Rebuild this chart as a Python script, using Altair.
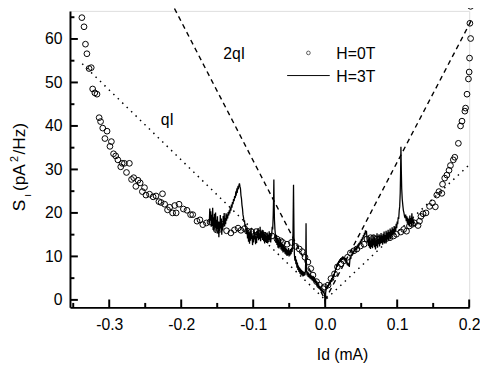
import altair as alt
import pandas as pd

# ---------------- data ----------------
# H = 0 T (open circles): current Id (mA), noise S_I (pA^2/Hz)
h0_x = [-0.338, -0.335, -0.333, -0.331, -0.328, -0.325, -0.323, -0.320, -0.317, -0.314,
        -0.312, -0.309, -0.306, -0.303, -0.299, -0.297, -0.294, -0.291, -0.288, -0.284,
        -0.282, -0.279, -0.276, -0.272, -0.269, -0.266, -0.263, -0.260, -0.257, -0.254,
        -0.251, -0.249, -0.244, -0.239, -0.235, -0.231, -0.228, -0.226, -0.223, -0.219,
        -0.216, -0.212, -0.209, -0.207, -0.203, -0.197, -0.192, -0.187, -0.184, -0.178,
        -0.174, -0.170, -0.165, -0.160, -0.151, -0.147, -0.144, -0.137, -0.131, -0.126,
        -0.121, -0.117, -0.112, -0.108, -0.103, -0.096, -0.092, -0.085, -0.080, -0.074,
        -0.067, -0.062, -0.059, -0.053, -0.047, -0.041, -0.036, -0.032, -0.028, -0.024,
        -0.020, -0.017, -0.012, -0.008, -0.003, -0.001, 0.004, 0.008, 0.013, 0.017,
        0.022, 0.026, 0.031, 0.035, 0.040, 0.044, 0.049, 0.054, 0.058, 0.063,
        0.067, 0.072, 0.076, 0.081, 0.085, 0.090, 0.095, 0.099, 0.105, 0.109,
        0.113, 0.117, 0.121, 0.124, 0.129, 0.131, 0.133, 0.136, 0.140, 0.145,
        0.149, 0.153, 0.155, 0.158, 0.162, 0.163, 0.166, 0.169, 0.172, 0.174,
        0.178, 0.180, 0.185, 0.188, 0.190, 0.194, 0.195, 0.197, 0.199, 0.200,
        0.2005, 0.202, 0.201, 0.202]
h0_y = [64.9, 62.8, 58.8, 56.6, 53.2, 53.4, 48.5, 47.6, 47.3, 41.9,
        41.0, 39.5, 37.1, 38.8, 35.3, 36.4, 33.6, 33.1, 32.2, 30.6,
        31.4, 31.4, 29.3, 31.4, 27.7, 28.1, 26.1, 27.5, 26.9, 24.9,
        25.8, 24.1, 24.3, 23.7, 23.9, 22.6, 22.4, 24.4, 22.0, 20.7,
        21.3, 20.0, 21.7, 20.0, 22.0, 20.9, 20.6, 19.6, 19.6, 18.1,
        18.4, 17.3, 17.7, 17.9, 16.1, 16.2, 17.4, 15.9, 15.4, 16.1,
        16.5, 16.0, 16.4, 15.8, 15.7, 15.7, 15.3, 14.9, 14.0, 14.7,
        14.0, 13.6, 13.2, 12.8, 13.2, 12.3, 11.7, 11.1, 9.8, 8.7,
        7.2, 5.7, 4.2, 3.4, 2.6, 3.0, 3.4, 4.9, 6.0, 7.6,
        8.3, 9.0, 9.8, 10.8, 11.3, 11.7, 12.4, 12.8, 14.0, 14.3,
        14.3, 14.0, 14.1, 13.8, 14.1, 14.3, 14.7, 15.1, 15.6, 16.2,
        15.8, 17.0, 17.4, 17.7, 17.1, 18.1, 19.2, 19.8, 20.0, 21.5,
        22.3, 21.4, 24.1, 24.9, 24.5, 26.6, 28.0, 28.7, 29.8, 30.9,
        32.2, 32.8, 36.0, 40.0, 41.1, 43.4, 44.1, 47.3, 50.8, 52.4,
        55.6, 60.1, 63.6, 67.5]

# H = 3 T (solid noisy line)
h3_x = [-0.1610, -0.1603, -0.1597, -0.1590, -0.1583, -0.1577, -0.1570, -0.1563, -0.1557, -0.1550,
        -0.1543, -0.1537, -0.1530, -0.1523, -0.1517, -0.1510, -0.1503, -0.1497, -0.1490, -0.1483,
        -0.1477, -0.1470, -0.1463, -0.1457, -0.1450, -0.1443, -0.1437, -0.1430, -0.1423, -0.1417,
        -0.1410, -0.1403, -0.1397, -0.1390, -0.1383, -0.1377, -0.1370,
        -0.1363, -0.1355, -0.1348, -0.1340, -0.1333, -0.1325, -0.1318, -0.1310, -0.1303, -0.1295,
        -0.1288, -0.1280, -0.1273, -0.1265, -0.1258, -0.1250, -0.1243, -0.1235, -0.1228, -0.1220,
        -0.1213, -0.1205, -0.1198, -0.1191, -0.1184, -0.1177, -0.1170, -0.1163, -0.1156, -0.1149,
        -0.1142, -0.1135, -0.1128, -0.1121, -0.1114, -0.1107, -0.1100,
        -0.1093, -0.1086, -0.1079, -0.1072, -0.1065, -0.1058, -0.1051, -0.1044, -0.1037, -0.1030,
        -0.1023, -0.1016, -0.1009, -0.1002, -0.0995, -0.0988, -0.0981, -0.0974, -0.0967, -0.0960,
        -0.0953, -0.0946, -0.0939, -0.0932, -0.0925, -0.0918, -0.0911, -0.0904, -0.0897, -0.0890,
        -0.0883, -0.0876, -0.0869, -0.0862, -0.0855, -0.0848, -0.0841, -0.0834, -0.0827, -0.0820,
        -0.0813, -0.0806, -0.0799, -0.0792, -0.0785, -0.0778, -0.0771, -0.0764, -0.0757, -0.0750,
        -0.0743, -0.0736, -0.0729, -0.0722, -0.0716, -0.0713, -0.0710, -0.0705, -0.0698,
        -0.0691, -0.0684, -0.0677, -0.0670, -0.0663, -0.0656, -0.0649, -0.0642, -0.0635, -0.0628,
        -0.0621, -0.0614, -0.0607, -0.0600, -0.0593, -0.0586, -0.0579, -0.0572, -0.0565, -0.0558,
        -0.0551, -0.0544, -0.0537, -0.0530, -0.0523, -0.0516, -0.0509, -0.0502, -0.0495, -0.0488,
        -0.0481, -0.0474, -0.0467, -0.0460, -0.0453, -0.0447, -0.0443, -0.0440, -0.0437, -0.0433,
        -0.0428, -0.0421, -0.0414, -0.0407, -0.0400, -0.0393, -0.0386, -0.0379, -0.0372, -0.0365,
        -0.0358, -0.0351, -0.0344, -0.0337, -0.0330, -0.0323, -0.0316, -0.0309, -0.0302, -0.0295,
        -0.0288, -0.0281, -0.0274, -0.0270, -0.0266, -0.0262,
        -0.0258, -0.0251, -0.0244, -0.0237, -0.0230, -0.0223, -0.0216, -0.0209, -0.0202, -0.0195,
        -0.0188, -0.0181, -0.0174, -0.0167, -0.0160, -0.0153, -0.0146, -0.0139, -0.0132, -0.0125,
        -0.0118, -0.0111, -0.0104, -0.0097, -0.0090, -0.0083, -0.0076, -0.0069, -0.0062, -0.0055,
        -0.0048, -0.0041, -0.0034, -0.0027, -0.0020, -0.0010, 0.0000, 0.0006,
        0.0013, 0.0020, 0.0027, 0.0034, 0.0041, 0.0048, 0.0055, 0.0062, 0.0069, 0.0076,
        0.0083, 0.0090, 0.0097, 0.0104, 0.0111, 0.0118, 0.0125, 0.0132, 0.0139, 0.0146,
        0.0153, 0.0160, 0.0167, 0.0174, 0.0181, 0.0188, 0.0195, 0.0202, 0.0209, 0.0216,
        0.0223, 0.0230, 0.0237, 0.0244, 0.0251, 0.0258, 0.0265, 0.0272, 0.0279, 0.0286,
        0.0293, 0.0300, 0.0307, 0.0314, 0.0321, 0.0328, 0.0335, 0.0342, 0.0349, 0.0356,
        0.0363, 0.0370, 0.0377, 0.0384, 0.0391, 0.0398, 0.0405, 0.0412, 0.0419, 0.0426,
        0.0433, 0.0440, 0.0447, 0.0454, 0.0461, 0.0468, 0.0475, 0.0482, 0.0489, 0.0496,
        0.0503, 0.0510, 0.0517, 0.0524, 0.0531, 0.0538, 0.0545, 0.0552, 0.0559, 0.0566,
        0.0573, 0.0580, 0.0587,
        0.0594, 0.0601, 0.0608, 0.0615, 0.0622, 0.0629, 0.0636, 0.0643, 0.0650, 0.0657,
        0.0664, 0.0671, 0.0678, 0.0685, 0.0692, 0.0699, 0.0706, 0.0713, 0.0720, 0.0727,
        0.0734, 0.0741, 0.0748, 0.0755, 0.0762, 0.0769, 0.0776, 0.0783, 0.0790, 0.0797,
        0.0804, 0.0811, 0.0818, 0.0825, 0.0832, 0.0839, 0.0846, 0.0853, 0.0860, 0.0867,
        0.0874, 0.0881, 0.0888, 0.0895, 0.0902, 0.0909, 0.0916, 0.0923, 0.0930, 0.0937,
        0.0944, 0.0951, 0.0958, 0.0965, 0.0972, 0.0979, 0.0986, 0.0993, 0.1000, 0.1007,
        0.1014, 0.1021, 0.1028, 0.1035, 0.1042, 0.1047, 0.1052, 0.1057, 0.1063, 0.1070,
        0.1078, 0.1086, 0.1094, 0.1102, 0.1110, 0.1118, 0.1126, 0.1134, 0.1141, 0.1148,
        0.1155, 0.1162, 0.1169, 0.1176, 0.1183, 0.1190, 0.1197, 0.1204, 0.1211, 0.1218,
        0.1225, 0.1232]
h3_y = [17.5, 21.0, 18.2, 20.4, 16.8, 19.6, 17.0, 21.2, 16.1, 19.0,
        15.9, 19.8, 16.7, 20.1, 15.6, 18.4, 16.3, 19.2, 15.2, 18.0,
        14.4, 17.9, 15.8, 19.5, 16.4, 18.7, 15.0, 17.6, 16.0, 19.3,
        17.1, 20.0, 16.9, 18.8, 17.4, 19.9, 18.2,
        19.6, 18.7, 20.2, 19.4, 20.6, 19.9, 21.3, 20.5, 21.9, 21.2,
        22.5, 22.0, 23.2, 22.7, 23.9, 23.4, 24.6, 24.3, 25.3, 25.0,
        25.9, 25.7, 26.4, 26.8, 26.1, 25.6, 24.0, 23.3, 21.8, 21.0,
        19.6, 19.0, 17.9, 18.3, 16.8, 17.4, 16.0,
        15.2, 16.6, 14.1, 16.0, 13.4, 15.5, 12.9, 15.8, 13.6, 16.4,
        14.0, 15.1, 12.6, 14.8, 13.2, 16.2, 13.9, 15.6, 12.8, 14.6,
        13.1, 15.9, 14.2, 16.5, 13.7, 15.3, 14.0, 16.8, 13.5, 15.7,
        14.3, 16.1, 13.8, 16.0, 13.5, 15.3, 13.0, 15.6, 13.4, 14.7,
        13.1, 15.5, 13.0, 15.0, 13.6, 15.8, 13.8, 15.4, 13.2, 14.9,
        14.9, 16.8, 16.2, 19.5, 24.0, 27.7, 23.0, 18.5, 16.2,
        14.8, 13.1, 15.0, 12.6, 14.3, 12.0, 13.9, 11.8, 13.5, 12.2,
        14.0, 11.6, 13.2, 11.3, 12.9, 10.9, 12.6, 11.1, 12.3, 10.6,
        12.1, 10.4, 11.8, 10.1, 11.5, 10.3, 11.9, 10.0, 11.4, 10.2,
        11.7, 10.5, 12.0, 11.0, 12.5, 15.5, 22.0, 26.5, 21.0, 14.5,
        10.5, 9.0, 10.1, 8.2, 9.3, 7.4, 8.6, 6.9, 7.9, 6.4,
        7.5, 6.0, 7.2, 5.8, 6.9, 5.6, 6.7, 5.4, 6.5, 5.5,
        6.4, 5.7, 6.8, 9.5, 17.6, 9.0,
        6.6, 5.6, 6.5, 5.3, 6.3, 5.1, 6.0, 4.9, 5.8, 4.7,
        5.6, 4.5, 5.4, 4.3, 5.2, 4.1, 5.0, 3.9, 4.7, 3.6,
        4.3, 3.3, 4.0, 3.0, 3.6, 2.6, 3.2, 2.3, 2.9, 2.0,
        2.6, 1.8, 2.3, 1.5, 2.0, 1.4, -1.0, 1.6,
        2.4, 3.1, 2.5, 3.4, 2.9, 3.8, 3.3, 4.2, 3.7, 4.6,
        4.1, 5.0, 4.5, 5.4, 5.0, 6.0, 5.4, 6.6, 6.2, 7.4,
        7.0, 8.1, 7.6, 8.6, 8.0, 9.0, 8.5, 9.3, 8.7, 9.6,
        9.0, 9.8, 9.2, 10.0, 9.3, 9.9, 9.1, 9.6, 8.8, 9.2,
        8.4, 8.9, 8.0, 8.6, 7.8, 8.4, 7.6, 9.0, 9.8, 9.4,
        10.5, 10.1, 11.0, 10.5, 11.3, 10.9, 11.7, 11.2, 12.0, 11.4,
        12.2, 11.6, 12.4, 11.9, 12.8, 12.3, 13.2, 12.7, 13.6, 13.1,
        14.0, 13.5, 14.4, 13.9, 14.9, 14.4, 15.4, 14.9, 16.0, 15.3,
        15.9, 14.2, 13.2,
        13.8, 12.4, 14.5, 12.0, 14.1, 11.7, 13.6, 12.2, 14.8, 11.9,
        13.9, 12.5, 15.0, 12.1, 14.2, 11.6, 13.7, 12.4, 15.3, 12.0,
        14.0, 12.8, 15.1, 12.3, 14.6, 12.9, 15.4, 13.1, 14.8, 12.7,
        15.2, 13.3, 15.7, 13.0, 14.9, 13.6, 15.9, 13.4, 15.5, 14.0,
        16.1, 13.8, 15.6, 14.3, 16.4, 14.1, 16.0, 14.6, 16.7, 14.9,
        16.3, 15.2, 17.0, 15.5, 16.8, 15.8, 17.5, 16.5, 18.0, 17.4,
        19.0, 18.6, 20.5, 21.5, 24.5, 29.0, 35.2, 30.0, 25.5, 23.2,
        21.8, 20.6, 20.0, 19.2, 18.8, 19.6, 18.1, 19.2, 17.6, 18.9,
        17.2, 18.6, 16.9, 19.4, 17.5, 18.8, 17.0, 19.9, 17.6, 18.9,
        17.3, 18.5]

# theory lines
qI_x = [-0.3375, 0.0, 0.2015]
qI_y = [54.3, 0.0, 31.3]
twoqI_x = [-0.215, 0.0, 0.2037]
twoqI_y = [68.8, 0.0, 64.5]

# axes
x_major = [-0.3, -0.2, -0.1, 0.0, 0.1, 0.2]
x_minor = [-0.35, -0.25, -0.15, -0.05, 0.05, 0.15]
y_major = [0, 10, 20, 30, 40, 50, 60]
y_minor = [5, 15, 25, 35, 45, 55, 65]
x_domain = [-0.3545, 0.2]
y_domain = [-1.72, 66.45]

legend_labels = ["H=0T", "H=3T"]
line_labels = ["2qI", "qI"]

# ---------------- chart ----------------
W, H = 405.7, 301.3
FONT = "Liberation Sans"

xs = alt.Scale(domain=x_domain, nice=False, zero=False)
ys = alt.Scale(domain=y_domain, nice=False, zero=False)

df0 = pd.DataFrame({"x": h0_x, "y": h0_y})
df3 = pd.DataFrame({"x": h3_x, "y": h3_y, "i": range(len(h3_x))})
dq = pd.DataFrame({"x": qI_x, "y": qI_y})
d2q = pd.DataFrame({"x": twoqI_x, "y": twoqI_y})

x_axis = alt.Axis(values=x_major, labelExpr="replace(format(datum.value, '.1f'), '\u2212', '-')",
                  ticks=False, grid=False, domainWidth=2, domainColor="black",
                  labelFont=FONT, labelFontSize=16, labelColor="black",
                  labelBaseline="alphabetic", labelPadding=23, labelFlush=False,
                  labelOverlap=False, title="Id (mA)", titleFont=FONT,
                  titleFontSize=16, titleFontWeight="normal", titleColor="black",
                  titleX=276.5, titleY=53, titleAlign="center",
                  titleBaseline="alphabetic")
y_axis = alt.Axis(values=y_major, format="d", ticks=False, grid=False, domainWidth=2,
                  domainColor="black", labelFont=FONT, labelFontSize=16,
                  labelColor="black", labelPadding=8, labelFlush=False,
                  labelOverlap=False, title=None)

base_x = alt.X("x:Q", scale=xs, axis=x_axis)
base_y = alt.Y("y:Q", scale=ys, axis=y_axis)

circles = alt.Chart(df0).mark_point(shape="circle", filled=False, size=34,
                                   color="black", strokeWidth=1, opacity=1).encode(
    x=base_x, y=base_y)

line3 = alt.Chart(df3).mark_line(color="black", strokeWidth=1.3).encode(
    x=alt.X("x:Q", scale=xs), y=alt.Y("y:Q", scale=ys), order="i:Q")

dotted = alt.Chart(dq).mark_line(color="black", strokeWidth=1.5,
                                 strokeDash=[1.5, 4.8]).encode(
    x=alt.X("x:Q", scale=xs), y=alt.Y("y:Q", scale=ys))

dashed = alt.Chart(d2q).mark_line(color="black", strokeWidth=1.4,
                                  strokeDash=[5, 4]).encode(
    x=alt.X("x:Q", scale=xs), y=alt.Y("y:Q", scale=ys))

def xticks(vals, length):
    return alt.Chart(pd.DataFrame({"v": vals})).mark_rule(
        color="black", strokeWidth=2).encode(
        x=alt.X("v:Q", scale=xs), y=alt.value(H), y2=alt.value(H - length))

def yticks(vals, length):
    return alt.Chart(pd.DataFrame({"v": vals})).mark_rule(
        color="black", strokeWidth=2).encode(
        y=alt.Y("v:Q", scale=ys), x=alt.value(0), x2=alt.value(length))

def label(text, x, y, size=16, angle=0):
    return alt.Chart(pd.DataFrame({"t": [text]})).mark_text(
        font=FONT, fontSize=size, color="black", align="left",
        baseline="alphabetic", angle=angle).encode(
        text="t:N", x=alt.value(x), y=alt.value(y))

# legend
leg_pt = alt.Chart(pd.DataFrame({"t": [legend_labels[0]]})).mark_point(
    shape="circle", filled=False, size=14, color="black", strokeWidth=0.9).encode(
    x=alt.value(242.3), y=alt.value(42.7))
leg_ln = alt.Chart(pd.DataFrame({"t": [legend_labels[1]]})).mark_rule(
    color="black", strokeWidth=1).encode(
    x=alt.value(220.7), x2=alt.value(264), y=alt.value(65.7))

layers = [
    dotted, dashed, line3, circles,
    xticks(x_major, 8), xticks(x_minor, 4.5),
    yticks(y_major, 8), yticks(y_minor, 4.5),
    leg_pt, leg_ln,
    label(legend_labels[0], 270.7, 48.7),
    label(legend_labels[1], 270.7, 72.7),
    label(line_labels[0], 155.7, 48.7),
    label(line_labels[1], 92.3, 116),
    # y-axis title S_I (pA^2/Hz), rotated
    label("S", -45.3, 203.7, 17.5, 270),
    label("I", -39.7, 189, 10, 270),
    label("(pA", -45.3, 183, 17.5, 270),
    label("2", -53.0, 153.5, 11, 270),
    label("/Hz)", -45.3, 146, 17.5, 270),
]

chart = alt.layer(*layers).properties(
    width=W, height=H,
    autosize=alt.AutoSizeParams(type="none"),
    padding={"left": 63, "top": 0, "right": 11, "bottom": 61},
).configure_view(stroke=None).configure(background="white")

chart.save("out.html", embed_options={"renderer": "svg", "actions": False})
